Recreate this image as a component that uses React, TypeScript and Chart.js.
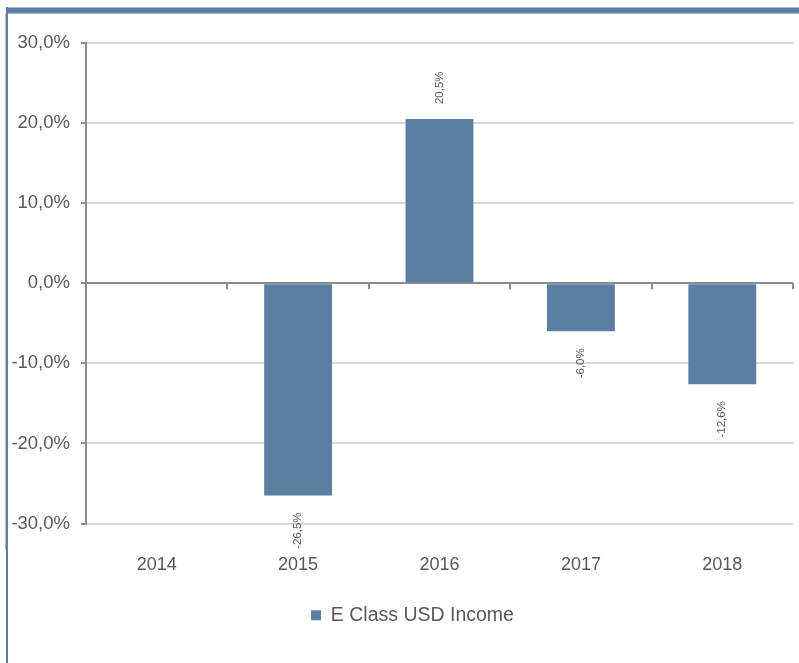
import React, { useEffect, useRef } from 'react';
import { Chart, registerables } from 'chart.js';

Chart.register(...registerables);

const categories: string[] = ['2014', '2015', '2016', '2017', '2018'];
const seriesName = 'E Class USD Income';
const seriesValues: (number | null)[] = [null, -26.5, 20.5, -6.0, -12.6];
const yMin = -30;
const yMax = 30;
const yStep = 10;

const BAR_COLOR = '#5b7fa3';
const TEXT_COLOR = '#595959';
const AXIS_COLOR = '#8c8c8c';
const GRID_COLOR = '#d9d9d9';
const FONT = '"Liberation Sans", Arial, sans-serif';

const fmt = (v: number) => v.toFixed(1).replace('.', ',') + '%';

const zeroAxisPlugin = {
  id: 'zeroAxisTicks',
  beforeDatasetsDraw(chart: any) {
    const x = chart.scales.x;
    const y = chart.scales.y;
    const ctx = chart.ctx;
    const y0 = y.getPixelForValue(0);
    const n = categories.length;
    ctx.save();
    ctx.strokeStyle = AXIS_COLOR;
    ctx.lineWidth = 2;
    for (let i = 1; i <= n; i++) {
      const px = Math.round(x.left + ((x.right - x.left) * i) / n);
      ctx.beginPath();
      ctx.moveTo(px, y0);
      ctx.lineTo(px, y0 + 6);
      ctx.stroke();
    }
    ctx.restore();
  },
};

const legendShiftPlugin = {
  id: 'legendShift',
  afterLayout(chart: any) {
    const lg = chart.legend;
    if (lg) {
      lg.left += 16;
      lg.right += 16;
    }
  },
};

const dataLabelPlugin = {
  id: 'rotatedDataLabels',
  afterDatasetsDraw(chart: any) {
    const ctx = chart.ctx;
    const meta = chart.getDatasetMeta(0);
    ctx.save();
    ctx.font = '11.5px ' + FONT;
    ctx.fillStyle = TEXT_COLOR;
    ctx.textBaseline = 'middle';
    meta.data.forEach((bar: any, i: number) => {
      const v = seriesValues[i];
      if (v === null || v === undefined) return;
      const props = bar.getProps(['x', 'y', 'base'], true);
      ctx.save();
      if (v >= 0) {
        ctx.translate(props.x, props.y - 15);
        ctx.rotate(-Math.PI / 2);
        ctx.textAlign = 'left';
      } else {
        ctx.translate(props.x, props.y + 17);
        ctx.rotate(-Math.PI / 2);
        ctx.textAlign = 'right';
      }
      ctx.fillText(fmt(v), 0, 0);
      ctx.restore();
    });
    ctx.restore();
  },
};

function BarChart() {
  const ref = useRef<HTMLCanvasElement | null>(null);
  useEffect(() => {
    if (!ref.current) return;
    Chart.defaults.font.family = FONT;
    Chart.defaults.color = TEXT_COLOR;
    const chart = new Chart(ref.current, {
      type: 'bar',
      data: {
        labels: categories,
        datasets: [
          {
            label: seriesName,
            data: seriesValues,
            backgroundColor: BAR_COLOR,
            borderWidth: 0,
            barPercentage: 0.48,
            categoryPercentage: 1,
          },
        ],
      },
      options: {
        animation: false,
        responsive: false,
        maintainAspectRatio: false,
        devicePixelRatio: 1,
        layout: { padding: { top: 43, left: 0, right: 6, bottom: 28 } },
        plugins: {
          tooltip: { enabled: false },
          legend: {
            position: 'bottom',
            labels: {
              boxWidth: 10,
              boxHeight: 10,
              padding: 10,
              color: TEXT_COLOR,
              font: { size: 19.5, family: FONT },
            },
          },
        },
        scales: {
          x: {
            grid: { display: false, drawTicks: false },
            border: { display: false },
            ticks: { color: TEXT_COLOR, font: { size: 18, family: FONT }, padding: 31 },
            afterFit: (s: any) => {
              s.height = 72;
            },
          },
          y: {
            min: yMin,
            max: yMax,
            ticks: {
              stepSize: yStep,
              color: TEXT_COLOR,
              font: { size: 18.5, family: FONT },
              padding: 11,
              callback: (v: any) => fmt(Number(v)),
            },
            grid: {
              color: (c: any) => (c.tick && c.tick.value === 0 ? AXIS_COLOR : GRID_COLOR),
              tickColor: AXIS_COLOR,
              tickLength: 5,
              lineWidth: 2,
            },
            border: { display: true, color: AXIS_COLOR, width: 2 },
            afterFit: (s: any) => {
              s.width = 86;
            },
          },
        },
      },
      plugins: [zeroAxisPlugin, dataLabelPlugin, legendShiftPlugin],
    });
    return () => chart.destroy();
  }, []);
  return <canvas ref={ref} width={799} height={663} style={{ display: 'block', width: 799, height: 663 }} />;
}

export default function App() {
  return (
    <div style={{ position: 'fixed', left: 0, top: 0, width: 799, height: 663, background: '#fff', overflow: 'hidden' }}>
      <BarChart />
      <div style={{ position: 'absolute', left: 6, top: 7, width: 793, height: 7, background: BAR_COLOR, borderTop: '1px solid #a9bcd0', borderBottom: '1px solid #a9bcd0', boxSizing: 'border-box' }} />
      <div style={{ position: 'absolute', left: 6, top: 7, width: 2, height: 656, background: BAR_COLOR }} />
      <div style={{ position: 'absolute', left: 5, top: 14, width: 1, height: 536, background: '#b8c6d4' }} />
    </div>
  );
}
